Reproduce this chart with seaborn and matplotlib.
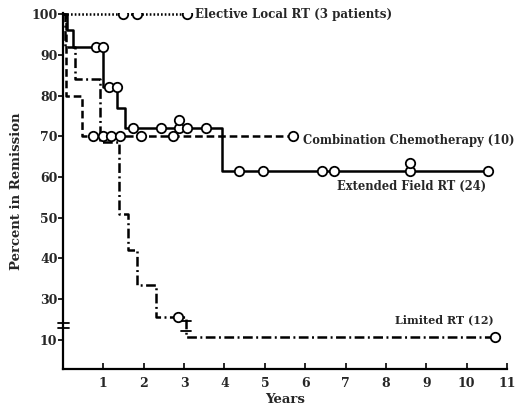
import numpy as np
import pandas as pd
import matplotlib
matplotlib.use("Agg")
import matplotlib.pyplot as plt
import seaborn as sns

# values (years, percent)
elective_events = [0.0]
elective_surv = [100]
elective_end = 3.07
elective_cens_x = [1.49, 1.83, 3.07]
elective_cens_y = [100, 100, 100]

extended_events = [0.0, 0.10, 0.25, 1.00, 1.34, 1.54, 3.93]
extended_surv = [100, 96, 92, 82, 77, 72, 61.5]
extended_end = 10.54
extended_cens_x = [0.81, 1.00, 1.15, 1.33, 1.73, 2.43, 2.88, 2.88, 3.08, 3.54,
                   4.36, 4.95, 6.41, 6.72, 8.60, 8.60, 10.54]
extended_cens_y = [92, 92, 82, 82, 72, 72, 72, 74, 72, 72,
                   61.5, 61.5, 61.5, 61.5, 61.5, 63.5, 61.5]

combo_events = [0.0, 0.08, 0.47]
combo_surv = [100, 80, 70]
combo_end = 5.71
combo_cens_x = [0.75, 1.00, 1.19, 1.41, 1.93, 2.73, 5.71]
combo_cens_y = [70, 70, 70, 70, 70, 70, 70]

limited_events = [0.0, 0.05, 0.30, 0.92, 1.38, 1.62, 1.83, 2.31, 3.04]
limited_surv = [100, 92, 84, 68.5, 51, 42, 33.4, 25.6, 10.6]
limited_end = 10.71
limited_cens_x = [2.86, 10.71]
limited_cens_y = [25.6, 10.6]

ytick_vals = [10, 30, 40, 50, 60, 70, 80, 90, 100]
xtick_vals = list(range(1, 12))

labels = {
    "elective": "Elective Local RT (3 patients)",
    "combo": "Combination Chemotherapy (10)",
    "extended": "Extended Field RT (24)",
    "limited": "Limited RT (12)",
}

BREAK_BELOW = 20   # axis is broken: 20 is left out, 10 drawn where 20 would be
SHIFT = 10


def disp(v):
    v = np.asarray(v, dtype=float)
    return np.where(v < BREAK_BELOW, v + SHIFT, v)


def step_frame(events, surv, end):
    x = list(events) + [end]
    y = list(surv) + [surv[-1]]
    return pd.DataFrame({"years": x, "pct": disp(y)})


sns.set_style("ticks")
plt.rcParams["font.family"] = ["DejaVu Serif"]
plt.rcParams["font.weight"] = "bold"
plt.rcParams["lines.scale_dashes"] = False

fig = plt.figure(figsize=(5.29, 4.09), dpi=100)
ax = fig.add_axes([63 / 529, 1 - 369 / 409, 444 / 529, 356 / 409])

series = [
    ("elective", elective_events, elective_surv, elective_end, elective_cens_x, elective_cens_y, (0, (1.2, 1.5))),
    ("extended", extended_events, extended_surv, extended_end, extended_cens_x, extended_cens_y, "-"),
    ("combo", combo_events, combo_surv, combo_end, combo_cens_x, combo_cens_y, (0, (5.5, 2.8))),
    ("limited", limited_events, limited_surv, limited_end, limited_cens_x, limited_cens_y, (0, (7, 2.5, 1.4, 2.5))),
]

for name, ev, sv, end, cx, cy, ls in series:
    df = step_frame(ev, sv, end)
    sns.lineplot(data=df, x="years", y="pct", ax=ax, color="black", lw=1.8,
                 linestyle=ls, drawstyle="steps-post", estimator=None,
                 sort=False, legend=False)
    cens = pd.DataFrame({"years": cx, "pct": disp(cy)})
    sns.scatterplot(data=cens, x="years", y="pct", ax=ax, marker="o", s=46,
                    facecolor="white", edgecolor="black", linewidth=1.3,
                    zorder=4, legend=False)

ax.set_xlim(0, 11)
ax.set_ylim(12.8, 100.3)
ax.set_xticks(xtick_vals)
ax.set_xticklabels([str(t) for t in xtick_vals], fontsize=9, fontweight="bold")
ax.set_yticks(disp(ytick_vals))
ax.set_yticklabels([str(t) for t in ytick_vals], fontsize=9, fontweight="bold")
ax.tick_params(axis="x", direction="in", length=4, width=1.4, pad=6)
ax.tick_params(axis="y", direction="out", length=3.5, width=1.4, pad=0.5)
for side in ["top", "right"]:
    ax.spines[side].set_visible(False)
for side in ["left", "bottom"]:
    ax.spines[side].set_linewidth(1.6)
    ax.spines[side].set_color("black")

ax.set_xlabel("Years", fontsize=9.5, fontweight="bold", labelpad=2)
ax.set_ylabel("Percent in Remission", fontsize=9.5, fontweight="bold", labelpad=6)

# axis break marks on the y axis and on the limited RT curve
ytr = ax.get_yaxis_transform()
for yb in [22.9, 24.1]:
    ax.plot([-0.012, 0.014], [yb, yb], transform=ytr, color="black", lw=1.3, clip_on=False)
bx = limited_events[-1]
for yb in [22.1, 24.6]:
    ax.plot([bx - 0.12, bx + 0.12], [yb, yb], color="black", lw=1.3)

txt = dict(fontsize=8.3, fontweight="bold", va="center", ha="left")
ax.text(3.28, 100, labels["elective"], fontsize=8.6, fontweight="bold", va="center", ha="left")
ax.text(5.95, 69.0, labels["combo"], **txt)
ax.text(6.79, 57.7, labels["extended"], **txt)
ax.text(8.23, 24.8, labels["limited"], fontsize=8.0, fontweight="bold", va="center", ha="left")

fig.savefig("out.png", dpi=100, facecolor="white")
